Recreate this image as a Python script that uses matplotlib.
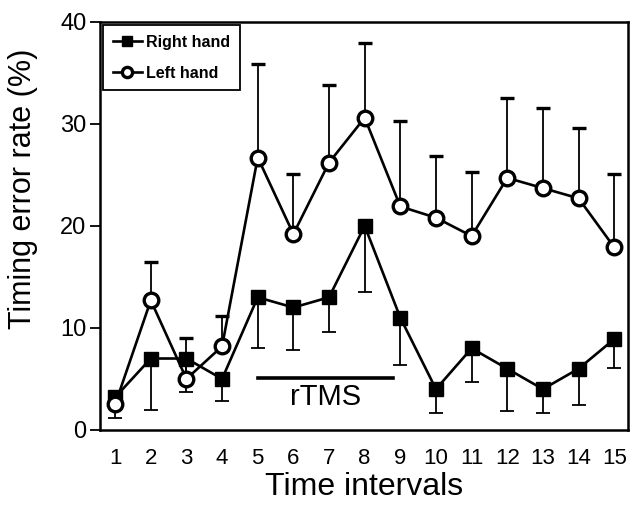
#!/usr/bin/env python3
"""Timing error rate per time interval, right vs left hand, with rTMS period."""
import matplotlib
matplotlib.use("Agg")
import matplotlib.pyplot as plt

intervals = list(range(1, 16))

right_hand = [3.2, 7.0, 7.0, 5.0, 13.0, 12.0, 13.0, 20.0, 11.0, 4.0, 8.0, 6.0, 4.0, 6.0, 8.9]
right_err = [2.0, 5.0, 3.3, 2.2, 5.0, 4.2, 3.4, 6.5, 4.6, 2.3, 3.3, 4.1, 2.3, 3.6, 2.8]

left_hand = [2.5, 12.7, 5.0, 8.2, 26.7, 19.2, 26.2, 30.6, 21.9, 20.8, 19.0, 24.7, 23.7, 22.7, 17.9]
left_err = [0.8, 3.8, 4.0, 3.0, 9.2, 5.9, 7.6, 7.3, 8.4, 6.0, 6.3, 7.8, 7.9, 6.9, 7.2]

rtms_span = [5.0, 8.8]
rtms_level = 5.1

plt.rcParams["font.family"] = ["Liberation Sans", "DejaVu Sans"]

fig = plt.figure(figsize=(6.3, 5.07), dpi=100)
ax = fig.add_axes([0.159, 0.152, 0.838, 0.805])

zero = [0] * len(intervals)

# right hand: error bars point down
eb_r = ax.errorbar(intervals, right_hand, yerr=[right_err, zero], color="black",
                   marker="s", markersize=10.5, markerfacecolor="black", lw=1.9,
                   elinewidth=1.3, capsize=5, capthick=1.3, zorder=2)
# left hand: error bars point up
eb_l = ax.errorbar(intervals, left_hand, yerr=[zero, left_err], color="black",
                   marker="o", markersize=10.5, markerfacecolor="white",
                   markeredgewidth=2.4, lw=1.9, elinewidth=1.3, capsize=5,
                   capthick=1.3, zorder=3)

ax.plot(rtms_span, [rtms_level, rtms_level], color="black", lw=2.6)
ax.text(sum(rtms_span) / 2, 3.2, "rTMS", ha="center", va="center", fontsize=21)

ax.set_xlim(0.58, 15.39)
ax.set_ylim(0, 40)
ax.set_xticks(intervals)
ax.set_yticks([0, 10, 20, 30, 40])
ax.tick_params(axis="x", length=0, labelsize=16, pad=13)
ax.tick_params(axis="y", direction="out", length=7, width=1.3, labelsize=17, pad=3)
for s in ax.spines.values():
    s.set_linewidth(1.8)

ax.set_xlabel("Time intervals", fontsize=23, labelpad=2)
ax.set_ylabel("Timing error rate (%)", fontsize=22)
ax.yaxis.set_label_coords(-0.117, 0.59)

leg = ax.legend([eb_r[0], eb_l[0]], ["Right hand", "Left hand"], loc="upper left",
                handlelength=1.8, borderpad=0.6, labelspacing=1.0, handletextpad=0.3,
                fancybox=False, framealpha=1, edgecolor="black",
                borderaxespad=0.2, prop={"weight": "bold", "size": 11.5},
                markerscale=0.7)
leg.get_frame().set_linewidth(1.3)

fig.savefig("out.png", dpi=100)
